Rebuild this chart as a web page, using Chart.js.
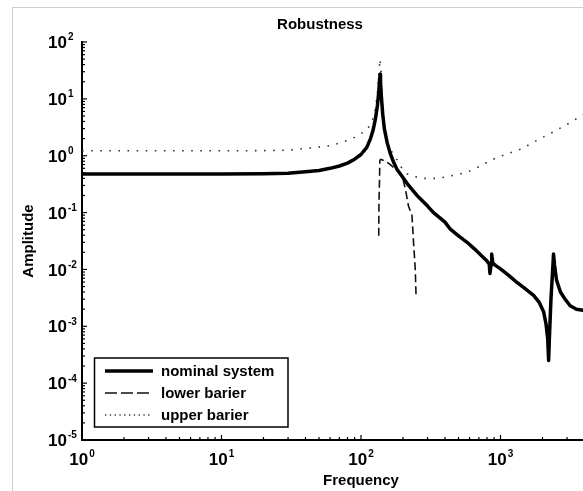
<!DOCTYPE html>
<html>
<head>
<meta charset="utf-8">
<script src="https://cdn.jsdelivr.net/npm/chart.js@4.4.1/dist/chart.umd.min.js"></script>
<style>
  html, body { margin: 0; padding: 0; background: #fff; overflow: hidden; }
  #frame { position: absolute; left: 12px; top: 7px; width: 1000px; height: 1000px; border: 1px solid #cfcfcf; }
  #wrap { position: absolute; left: 0; top: 0; width: 660px; height: 491px; }
</style>
</head>
<body>
<div id="frame"></div>
<div id="wrap"><canvas id="chart" width="660" height="491"></canvas></div>
<script>
// axis ticks (labels are 10 raised to these exponents)
const xTickValues = [1, 10, 100, 1000, 10000];
const xTickExps = ["0", "1", "2", "3", "4"];
const yTickValues = [1e-5, 1e-4, 1e-3, 1e-2, 1e-1, 1, 10, 100];
const yTickExps = ["-5", "-4", "-3", "-2", "-1", "0", "1", "2"];

// nominal system
const nominalFreq = [1, 5, 10, 20, 30, 40, 50, 60, 70, 80, 90, 100, 110, 117, 122, 127, 131, 134, 136, 137,
  138, 140, 143, 147, 154, 162, 172, 181, 195, 215, 252, 300, 331, 400, 437, 500, 576, 650, 757, 800,
  830, 840, 855, 865, 880, 920, 1000, 1150, 1313, 1500, 1727, 1900, 2037, 2120, 2180, 2213, 2240, 2300,
  2360, 2400, 2440, 2520, 2690, 2900, 3160, 3500, 4000];
const nominalAmp = [0.475, 0.475, 0.477, 0.48, 0.49, 0.52, 0.55, 0.6, 0.66, 0.74, 0.87, 1.05, 1.4, 2.0, 2.8, 4.5, 7.5, 13, 22, 27,
  20, 11, 5.5, 3.0, 1.7, 1.1, 0.75, 0.58, 0.45, 0.32, 0.2, 0.13, 0.1, 0.068, 0.051, 0.039, 0.03, 0.023, 0.016, 0.014,
  0.0125, 0.0085, 0.012, 0.0186, 0.013, 0.0118, 0.0102, 0.0078, 0.0059, 0.0046, 0.0035, 0.0026, 0.0018, 0.0011, 0.0006, 0.00025, 0.0006, 0.003,
  0.009, 0.0186, 0.012, 0.0065, 0.004, 0.003, 0.0023, 0.002, 0.0019];

// lower barier
const lowerFreq = [134, 134.5, 135.5, 136.5, 138, 142, 145, 160, 171, 185, 197, 208, 219, 232, 238, 245, 248];
const lowerAmp = [0.039, 0.14, 0.3, 0.82, 0.86, 0.85, 0.82, 0.72, 0.62, 0.52, 0.45, 0.26, 0.13, 0.089, 0.03, 0.01, 0.0035];

// upper barier
const upperFreq = [1, 10, 20, 30, 45, 60, 75, 90, 99, 111, 120, 126, 131, 134, 137, 139, 141, 144, 149, 158,
  170, 181, 195, 214, 240, 280, 352, 417, 500, 574, 700, 840, 1000, 1396, 1900, 2580, 3200, 3930, 4500];
const upperAmp = [1.22, 1.22, 1.23, 1.25, 1.38, 1.5, 1.75, 2.1, 2.4, 2.9, 4.0, 6.2, 12, 27, 50, 32, 12, 5, 2.6, 1.5,
  1.05, 0.85, 0.62, 0.48, 0.43, 0.4, 0.4, 0.43, 0.47, 0.51, 0.64, 0.82, 0.98, 1.3, 1.96, 2.9, 3.9, 5.3, 6.5];

const toPoints = (xs, ys) => xs.map((x, i) => ({ x: x, y: ys[i] }));

const fontFamily = "'Liberation Sans', Arial, sans-serif";
const narrowFamily = "'Liberation Sans Narrow', 'Liberation Sans', Arial, sans-serif";
const font = { family: fontFamily, size: 15, weight: "bold" };

// "10" with a raised exponent, y = centre of the digits
function drawPower(ctx, exp, x, y, align) {
  ctx.font = "bold 17px " + narrowFamily;
  const wb = ctx.measureText("10").width;
  ctx.font = "bold 10px " + fontFamily;
  const we = ctx.measureText(exp).width;
  const total = wb + 1 + we;
  let x0 = x;
  if (align === "center") x0 = x - total / 2;
  ctx.textAlign = "left";
  ctx.textBaseline = "alphabetic";
  ctx.font = "bold 17px " + narrowFamily;
  ctx.fillText("10", x0, y + 6.1);
  ctx.font = "bold 10px " + fontFamily;
  ctx.fillText(exp, x0 + wb + 1, y - 1.6);
}

// MATLAB style inward ticks, tick labels and a boxed legend in the lower left corner
const matlabExtras = {
  id: "matlabExtras",
  afterDatasetsDraw(chart) {
    const { ctx, chartArea, scales } = chart;
    ctx.save();
    ctx.strokeStyle = "#000";
    ctx.lineWidth = 1.2;
    ctx.setLineDash([]);
    xTickValues.forEach((d) => {
      for (let k = 1; k < 10; k++) {
        const v = d * k;
        if (v > scales.x.max) break;
        const px = scales.x.getPixelForValue(v);
        const len = k === 1 ? 5 : 3;
        ctx.beginPath();
        ctx.moveTo(px, chartArea.bottom);
        ctx.lineTo(px, chartArea.bottom - len);
        ctx.stroke();
      }
    });
    yTickValues.forEach((d) => {
      for (let k = 1; k < 10; k++) {
        const v = d * k;
        if (v > scales.y.max * 1.0001) break;
        const py = scales.y.getPixelForValue(v);
        const len = k === 1 ? 5 : 3;
        ctx.beginPath();
        ctx.moveTo(chartArea.left, py);
        ctx.lineTo(chartArea.left + len, py);
        ctx.stroke();
      }
    });

    ctx.fillStyle = "#000";
    xTickValues.forEach((v, i) => {
      drawPower(ctx, xTickExps[i], scales.x.getPixelForValue(v), chartArea.bottom + 19, "center");
    });
    yTickValues.forEach((v, i) => {
      drawPower(ctx, yTickExps[i], chartArea.left - 34, scales.y.getPixelForValue(v), "left");
    });

    // legend
    const left = chartArea.left + 12.5;
    const bottom = chartArea.bottom - 13;
    const w = 193.5;
    const h = 69;
    const top = bottom - h;
    ctx.fillStyle = "#fff";
    ctx.fillRect(left, top, w, h);
    ctx.lineWidth = 1.5;
    ctx.strokeStyle = "#000";
    ctx.strokeRect(left, top, w, h);
    ctx.font = "bold 15px " + fontFamily;
    ctx.textBaseline = "middle";
    ctx.textAlign = "left";
    chart.data.datasets.forEach((ds, i) => {
      const y = top + 13 + i * 22;
      ctx.beginPath();
      ctx.strokeStyle = ds.borderColor;
      ctx.lineWidth = ds.borderWidth;
      ctx.setLineDash(ds.legendDash || []);
      ctx.moveTo(left + 10.5, y);
      ctx.lineTo(left + 58.5, y);
      ctx.stroke();
      ctx.setLineDash([]);
      ctx.fillStyle = "#000";
      ctx.fillText(ds.label, left + 66.5, y + 1);
    });
    ctx.restore();
  },
};

new Chart(document.getElementById("chart"), {
  type: "scatter",
  data: {
    datasets: [
      {
        label: "nominal system",
        data: toPoints(nominalFreq, nominalAmp),
        showLine: true,
        borderColor: "#000",
        borderWidth: 3.5,
        borderJoinStyle: "round",
        pointRadius: 0,
      },
      {
        label: "lower barier",
        data: toPoints(lowerFreq, lowerAmp),
        showLine: true,
        borderColor: "#111",
        borderWidth: 1.6,
        borderDash: [8, 4],
        legendDash: [12, 4],
        pointRadius: 0,
      },
      {
        label: "upper barier",
        data: toPoints(upperFreq, upperAmp),
        showLine: true,
        borderColor: "#333",
        borderWidth: 1.6,
        borderDash: [1.6, 7.5],
        legendDash: [1.3, 3.5],
        pointRadius: 0,
      },
    ],
  },
  options: {
    responsive: false,
    animation: false,
    layout: { padding: { left: 0, right: 20, top: 0, bottom: 0 } },
    plugins: {
      legend: { display: false },
      tooltip: { enabled: false },
      title: {
        display: true,
        text: "Robustness",
        color: "#000",
        font: font,
        padding: { top: 16, bottom: 8 },
      },
    },
    scales: {
      x: {
        type: "logarithmic",
        min: 1,
        max: 10000,
        afterBuildTicks: (s) => { s.ticks = xTickValues.map((v) => ({ value: v })); },
        afterFit: (s) => { s.height = 51; },
        grid: { display: false, drawTicks: false },
        border: { display: true, color: "#000", width: 2 },
        ticks: { display: false },
        title: { display: true, text: "Frequency", color: "#000", font: font, padding: { top: 0, bottom: 1 } },
      },
      y: {
        type: "logarithmic",
        min: 1e-5,
        max: 100,
        afterBuildTicks: (s) => { s.ticks = yTickValues.map((v) => ({ value: v })); },
        afterFit: (s) => { s.width = 82; },
        grid: { display: false, drawTicks: false },
        border: { display: true, color: "#000", width: 2 },
        ticks: { display: false },
        title: { display: true, text: "Amplitude", color: "#000", font: font, padding: { top: 20, bottom: 0 } },
      },
    },
  },
  plugins: [matlabExtras],
});
</script>
</body>
</html>
